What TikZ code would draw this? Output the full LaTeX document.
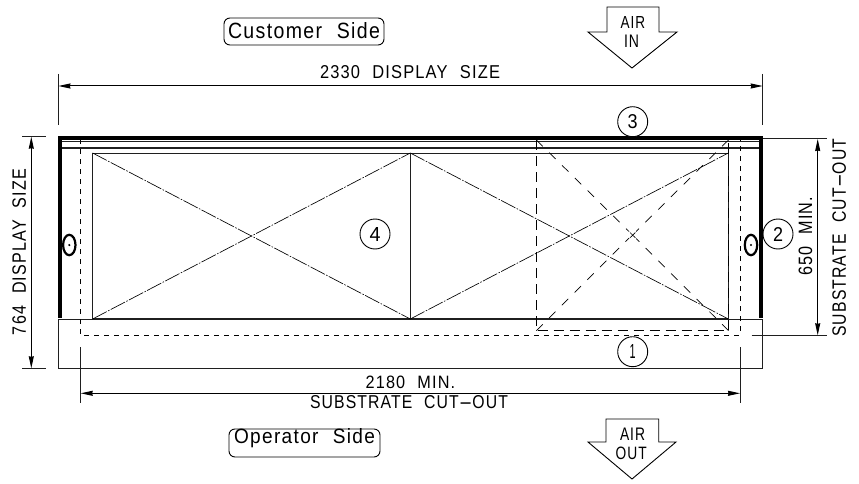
\documentclass[tikz,border=0pt]{standalone}
\usepackage{fontspec}
\setmainfont[LetterSpace=7]{Liberation Sans}
\usetikzlibrary{arrows.meta}
\newcommand{\fitw}[3]{\resizebox{#1pt}{#2pt}{#3}}
\newcommand{\longhy}{\scalebox{2.6}[1]{-}}
\newcommand{\wsp}{\hspace{0.75em}}
\tikzset{
  x=1pt,y=-1pt,
  base/.style={line width=1pt,black!88},
  thickedge/.style={line width=4.4pt,black},
  cut/.style={line width=1pt,dash pattern=on 5pt off 5pt},
  hidden/.style={line width=0.7pt,dash pattern=on 9pt off 9pt},
  hiddenrect/.style={line width=0.75pt,dash pattern=on 10pt off 6pt},
  diag/.style={line width=0.65pt,dash pattern=on 16pt off 1.5pt on 1.5pt off 1.5pt},
  dim/.style={line width=1pt,{Stealth[length=12pt,width=5pt,inset=0.5pt]}-{Stealth[length=12pt,width=5pt,inset=0.5pt]}},
  txt/.style={inner sep=0pt,outer sep=0pt,anchor=south west},
  rtxt/.style={inner sep=0pt,outer sep=0pt,anchor=south west,rotate=90},
  callout/.style={circle,draw,line width=0.9pt,minimum size=30pt,inner sep=0pt,fill=white},
  sidebox/.style={draw,line width=0.9pt,rounded corners=6pt},
  airarrow/.style={draw,line width=0.9pt}
}
\begin{document}
\begin{tikzpicture}
\useasboundingbox (0,0) rectangle (859,484);
% main body
\draw[base] (58.4,319) -- (58.4,368.3) -- (762.7,368.3) -- (762.7,319) -- (58.4,319);
\draw[base] (60,142) -- (761,142);
\draw[base,line width=1.3pt] (60,148) -- (761,148);
\draw[base] (92.6,153) -- (728.3,153) -- (728.3,319) -- (92.6,319) -- cycle;
\draw[base,line width=1.4pt] (92.6,319) -- (728.3,319);
\draw[base] (410.3,153) -- (410.3,319);
\draw[diag] (92.6,153) -- (410.3,319);
\draw[diag] (92.6,319) -- (410.3,153);
\draw[diag] (410.3,153) -- (728.3,319);
\draw[diag] (410.3,319) -- (728.3,153);
% hidden outline
\draw[hiddenrect] (536.4,140) -- (536.4,330.7) -- (728.5,330.7) -- (728.5,140);
\draw[hidden] (536.4,330.7) -- (629,238);
\draw[hidden] (728.5,140) -- (636,231.5);
\draw[hidden] (536.4,140) -- (629,231.5);
\draw[hidden] (728.5,330.7) -- (636,238.5);
\draw[line width=0.6pt] (630,232.5) -- (635.4,237.8) (630,237.8) -- (635.4,232.5);
% cut-out
\draw[cut] (80.7,139) -- (80.7,335.3) -- (740,335.3) -- (740,139);
% thick edges
\draw[thickedge] (60,318.3) -- (60,138.3) -- (761,138.3) -- (761,318.3);
% dimensions
\coordinate (dl) at (58.4,74); \coordinate (dle) at (58.4,125);
\coordinate (dr) at (762.7,74); \coordinate (dre) at (762.7,125);
\draw[base] (dl) -- (dle) (dr) -- (dre);
\draw[dim] (58.4,86) -- (762.7,86);
\draw[base] (22,136.7) -- (46,136.7) (22,368.3) -- (46,368.3);
\draw[dim] (31.3,136.7) -- (31.3,368.3);
\draw[base] (80.7,347) -- (80.7,403) (740,347) -- (740,403);
\draw[dim] (80.7,393.3) -- (740,393.3);
\draw[base] (763,139) -- (827,139) (751.7,335.3) -- (827,335.3);
\draw[dim] (817.7,139) -- (817.7,335.3);
% fasteners
\draw[line width=2.2pt] (69.3,245) ellipse (6.2pt and 10.2pt);
\fill (69.3,245) circle (1.2pt);
\draw[line width=2.2pt] (751,245) ellipse (6.2pt and 10.2pt);
\fill (751,245) circle (1.2pt);
% callouts
\node[callout] (c3) at (632.7,121.7) {\fitw{10}{14}{3}};
\node[callout] (c2) at (778,234) {\fitw{10}{14}{2}};
\node[callout] (c1) at (632.7,351.7) {\fitw{6}{14}{1}};
\node[callout] (c4) at (375,234) {\fitw{11}{14}{4}};
% side labels
\draw[sidebox] (224,18) rectangle (384,45);
\draw[sidebox] (229,429) rectangle (380,457);
\node[txt] (cust) at (228,39) {\fitw{152}{16}{Customer\wsp Side}};
\node[txt] (oper) at (234,448) {\fitw{141}{15}{Operator\wsp Side}};
% air arrows
\draw[airarrow] (607,7) -- (659,7) -- (659,32) -- (677,32) -- (632,68) -- (588,32) -- (607,32) -- cycle;
\draw[airarrow] (606,419) -- (658.7,419) -- (658.7,442) -- (676,442) -- (632,479) -- (588,442) -- (606,442) -- cycle;
\node[txt] (air1) at (620.7,29) {\fitw{24.5}{12}{AIR}};
\node[txt] (in1) at (624,48) {\fitw{15}{12.5}{IN}};
\node[txt] (air2) at (620,440) {\fitw{25}{12.5}{AIR}};
\node[txt] (out2) at (615.7,460) {\fitw{31}{12.5}{OUT}};
% dimension text
\node[txt] (t2330) at (320,78.5) {\fitw{180}{13}{2330\wsp DISPLAY\wsp SIZE}};
\node[txt] (t2180) at (365.7,388.3) {\fitw{89.5}{12.5}{2180\wsp MIN.}};
\node[txt] (tsub) at (310,409) {\fitw{198}{13}{SUBSTRATE\wsp CUT\longhy OUT}};
\node[rtxt] (t764) at (26,335) {\fitw{166}{13.5}{764\wsp DISPLAY\wsp SIZE}};
\node[rtxt] (t650) at (812.3,275.7) {\fitw{79}{13.5}{650\wsp MIN.}};
\node[rtxt] (tsub2) at (846,336.7) {\fitw{198}{13.5}{SUBSTRATE\wsp CUT\longhy OUT}};
\end{tikzpicture}
\end{document}
